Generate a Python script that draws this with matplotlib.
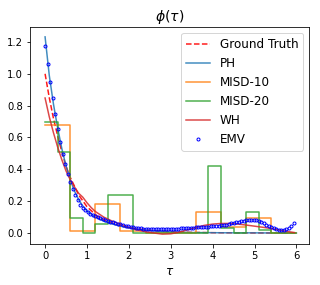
import numpy as np
import matplotlib
matplotlib.use("Agg")
import matplotlib.pyplot as plt

# EMV estimate, 100 points on [0, 5.94]
emv_t = np.linspace(0, 5.94, 100)
emv = [1.175, 1.06, 0.95, 0.846, 0.748, 0.654, 0.571, 0.498, 0.432, 0.372,
       0.322, 0.278, 0.238, 0.205, 0.178, 0.157, 0.142, 0.130, 0.121, 0.113,
       0.106, 0.099, 0.093, 0.087, 0.082, 0.077, 0.072, 0.067, 0.063, 0.058,
       0.054, 0.050, 0.046, 0.043, 0.040, 0.037, 0.034, 0.032, 0.030, 0.028,
       0.026, 0.025, 0.024, 0.023, 0.023, 0.023, 0.023, 0.023, 0.023, 0.024,
       0.025, 0.026, 0.027, 0.028, 0.029, 0.030, 0.031, 0.032, 0.033, 0.034,
       0.035, 0.036, 0.037, 0.038, 0.039, 0.040, 0.041, 0.042, 0.044, 0.046,
       0.048, 0.050, 0.053, 0.056, 0.060, 0.063, 0.067, 0.070, 0.074, 0.077,
       0.080, 0.082, 0.083, 0.082, 0.079, 0.074, 0.068, 0.060, 0.052, 0.044,
       0.036, 0.030, 0.025, 0.022, 0.021, 0.022, 0.026, 0.034, 0.046, 0.065]

gt_t = [0, 0.1, 0.2, 0.3, 0.4, 0.5, 0.6, 0.8, 1.0, 1.25, 1.5, 1.75, 2.0, 2.5,
        3.0, 3.5, 4.0, 5.0, 6.0]
gt = [1.0, 0.85, 0.72, 0.61, 0.51, 0.42, 0.35, 0.24, 0.165, 0.105, 0.07,
      0.048, 0.033, 0.016, 0.008, 0.004, 0.002, 0.0005, 0.0]

ph_t = [0, 0.1, 0.2, 0.3, 0.4, 0.5, 0.6, 0.7, 0.8, 0.9, 1.0, 1.2, 1.4, 1.6,
        1.8, 2.0, 2.3, 2.6, 3.0, 3.5, 4.0, 4.5, 5.0, 5.5, 6.0]
ph = [1.232, 0.99, 0.81, 0.66, 0.53, 0.42, 0.335, 0.265, 0.21, 0.17, 0.138,
      0.1, 0.075, 0.057, 0.043, 0.032, 0.02, 0.013, 0.007, 0.003, 0.002,
      0.001, 0.001, 0.0, 0.0]

misd10_edges = np.linspace(0, 6, 11)
misd10 = [0.68, 0.012, 0.18, 0.015, 0.002, 0.002, 0.135, 0.035, 0.095, 0.003]

misd20_edges = np.linspace(0, 6, 21)
misd20 = [0.70, 0.51, 0.097, 0.0, 0.055, 0.237, 0.237, 0.0, 0.0, 0.0,
          0.0, 0.0, 0.0, 0.42, 0.03, 0.0, 0.135, 0.02, 0.0, 0.0]

wh_t = [0, 0.1, 0.2, 0.3, 0.4, 0.5, 0.6, 0.7, 0.8, 0.9, 1.0, 1.1, 1.2, 1.4,
        1.6, 1.8, 2.0, 2.2, 2.4, 2.6, 2.8, 3.0, 3.2, 3.4, 3.6, 3.8, 4.0, 4.2,
        4.4, 4.6, 4.8, 5.0, 5.2, 5.4, 5.6, 5.8, 5.95]
wh = [0.848, 0.73, 0.63, 0.54, 0.46, 0.39, 0.335, 0.29, 0.25, 0.225, 0.19,
      0.16, 0.135, 0.1, 0.075, 0.055, 0.035, 0.02, 0.008, 0.0, -0.007,
      -0.005, 0.005, 0.02, 0.035, 0.048, 0.056, 0.06, 0.06, 0.056, 0.05,
      0.043, 0.036, 0.028, 0.018, 0.009, 0.003]

fig = plt.figure(figsize=(320 / 72, 285 / 72), dpi=72)
ax = fig.add_axes([30 / 320, 1 - 244 / 285, 279 / 320, 217 / 285])

ax.plot(gt_t, gt, "r--", label="Ground Truth", alpha=0.9)
ax.plot(ph_t, ph, color="tab:blue", label="PH", alpha=0.85)
ax.step(misd10_edges, np.append(misd10, misd10[-1]), where="post",
        color="tab:orange", label="MISD-10", alpha=0.85)
ax.step(misd20_edges, np.append(misd20, misd20[-1]), where="post",
        color="tab:green", label="MISD-20", alpha=0.85)
ax.plot(wh_t, wh, color="tab:red", label="WH", alpha=0.85)
ax.plot(emv_t, emv, "o", color="b", mfc="none", ms=3, mew=1, label="EMV")

ax.set_xlim(-0.36, 6.3)
ax.set_ylim(-0.069, 1.294)
ax.set_title(r"$\phi(\tau)$", fontsize=14)
ax.set_xlabel(r"$\tau$", fontsize=12)
ax.legend(loc="upper right", fontsize=12)

fig.savefig("out.png", dpi=72)
